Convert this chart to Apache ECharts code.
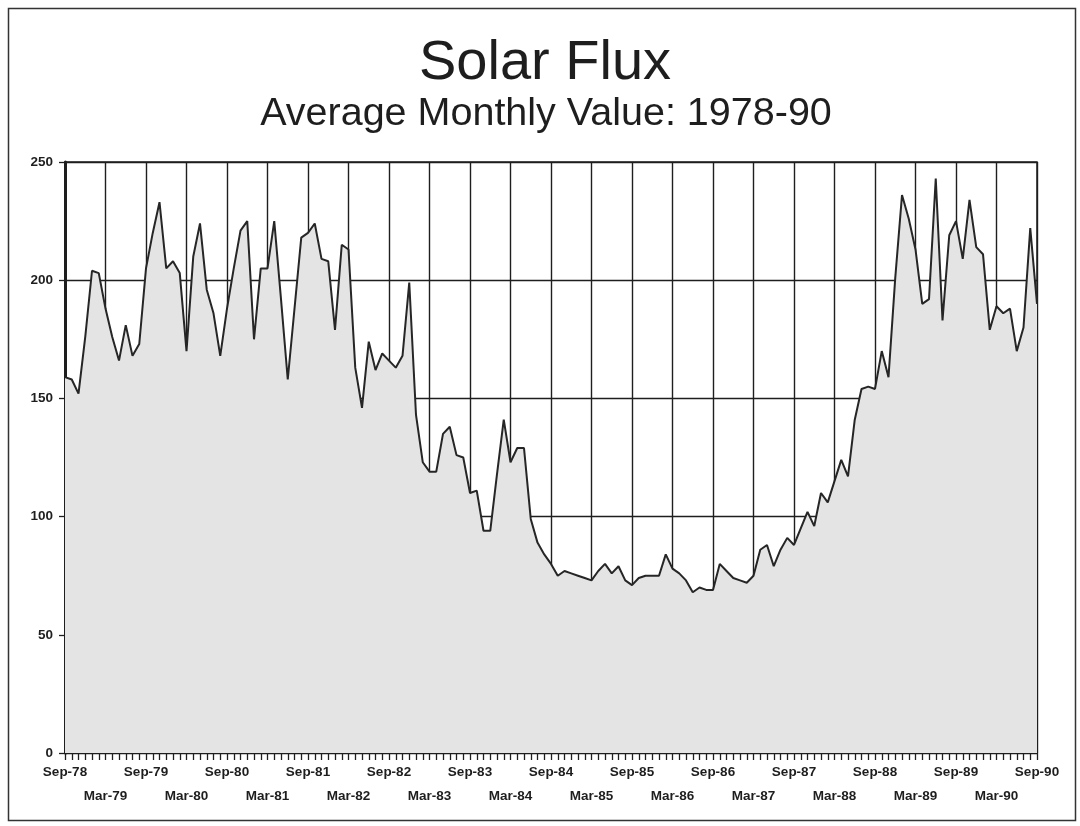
<!DOCTYPE html>
<html>
<head>
<meta charset="utf-8">
<script src="https://cdn.jsdelivr.net/npm/echarts@6/dist/echarts.min.js"></script>
<style>
  html, body { margin: 0; padding: 0; background: #ffffff; }
  #chart { width: 1080px; height: 826px; }
</style>
</head>
<body>
<div id="chart"></div>
<script>
// ---- Data ----
const titleText = 'Solar Flux';
const subtitleText = 'Average Monthly Value: 1978-90';
const monthNames = ['Jan','Feb','Mar','Apr','May','Jun','Jul','Aug','Sep','Oct','Nov','Dec'];
const startYear = 1978;
const startMonthIndex = 8; // Sep
// Monthly average solar flux, Sep-78 .. Sep-90 (145 months)
const flux = [
  159, 158, 152, 176, 204, 203, 188, 176, 166, 181, 168, 173,   // Sep-78 .. Aug-79
  205, 220, 233, 205, 208, 203, 170, 210, 224, 196, 186, 168,   // Sep-79 .. Aug-80
  188, 205, 221, 225, 175, 205, 205, 225, 192, 158, 188, 218,   // Sep-80 .. Aug-81
  220, 224, 209, 208, 179, 215, 213, 163, 146, 174, 162, 169,   // Sep-81 .. Aug-82
  166, 163, 168, 199, 143, 123, 119, 119, 135, 138, 126, 125,   // Sep-82 .. Aug-83
  110, 111,  94,  94, 118, 141, 123, 129, 129,  99,  89,  84,   // Sep-83 .. Aug-84
   80,  75,  77,  76,  75,  74,  73,  77,  80,  76,  79,  73,   // Sep-84 .. Aug-85
   71,  74,  75,  75,  75,  84,  78,  76,  73,  68,  70,  69,   // Sep-85 .. Aug-86
   69,  80,  77,  74,  73,  72,  75,  86,  88,  79,  86,  91,   // Sep-86 .. Aug-87
   88,  95, 102,  96, 110, 106, 115, 124, 117, 141, 154, 155,   // Sep-87 .. Aug-88
  154, 170, 159, 201, 236, 226, 213, 190, 192, 243, 183, 219,   // Sep-88 .. Aug-89
  225, 209, 234, 214, 211, 179, 189, 186, 188, 170, 180, 222,   // Sep-89 .. Aug-90
  190                                                           // Sep-90
];
const yMin = 0, yMax = 250, yStep = 50;

// month labels like "Sep-78"
const categories = flux.map(function (_, i) {
  const k = startMonthIndex + i;
  const yr = startYear + Math.floor(k / 12);
  return monthNames[k % 12] + '-' + String(yr).slice(2);
});

const chart = echarts.init(document.getElementById('chart'), null, { renderer: 'canvas' });
const FONT = '"Liberation Sans", Arial, Helvetica, sans-serif';
const INK = '#1e1e1e';

const labelBase = {
  show: true,
  interval: 0,
  hideOverlap: false,
  showMinLabel: true,
  showMaxLabel: true,
  color: INK,
  fontFamily: FONT,
  fontWeight: 'bold',
  fontSize: 13.5
};

chart.setOption({
  backgroundColor: '#ffffff',
  animation: false,
  graphic: [
    { type: 'rect', shape: { x: 8.5, y: 8.5, width: 1067, height: 812 },
      style: { fill: 'none', stroke: '#333', lineWidth: 1.5 }, silent: true },
    { type: 'text', x: 545, y: 64,
      style: { text: titleText, font: '56px ' + FONT, fill: INK, align: 'center', verticalAlign: 'middle' } },
    { type: 'text', x: 546, y: 114,
      style: { text: subtitleText, font: '39.5px ' + FONT, fill: INK, align: 'center', verticalAlign: 'middle' } }
  ],
  grid: {
    left: 65, right: 43, top: 162, bottom: 73,
    show: true, borderColor: INK, borderWidth: 1.5, backgroundColor: 'transparent'
  },
  xAxis: [{
    // Sep labels (first row), monthly ticks, half-year grid lines
    type: 'category',
    data: categories,
    boundaryGap: false,
    position: 'bottom',
    axisLine: { show: true, lineStyle: { color: INK, width: 1.5 } },
    axisTick: { show: true, interval: 0, length: 7, inside: false, lineStyle: { color: INK, width: 1.3 } },
    axisLabel: Object.assign({}, labelBase, {
      margin: 12,
      formatter: function (v, idx) { return idx % 12 === 0 ? v : ''; }
    }),
    splitLine: { show: true, interval: 5, lineStyle: { color: INK, width: 1.4 } }
  }, {
    // Mar labels (second row)
    type: 'category',
    data: categories,
    boundaryGap: false,
    position: 'bottom',
    axisLine: { show: false },
    axisTick: { show: false },
    splitLine: { show: false },
    axisLabel: Object.assign({}, labelBase, {
      margin: 36,
      formatter: function (v, idx) { return idx % 12 === 6 ? v : ''; }
    })
  }],
  yAxis: {
    type: 'value',
    min: yMin, max: yMax, interval: yStep,
    axisLine: { show: true, lineStyle: { color: INK, width: 3 } },
    axisTick: { show: true, length: 6, inside: false, lineStyle: { color: INK, width: 1.3 } },
    axisLabel: { color: INK, fontFamily: FONT, fontWeight: 'bold', fontSize: 13.5, margin: 12 },
    splitLine: { show: true, lineStyle: { color: INK, width: 1.4 } }
  },
  series: [{
    name: 'Solar Flux',
    type: 'line',
    xAxisIndex: 0,
    data: flux,
    symbol: 'none',
    smooth: false,
    lineStyle: { color: '#262626', width: 2 },
    areaStyle: { color: '#e4e4e4', opacity: 1 },
    z: 3
  }]
});
</script>
</body>
</html>
